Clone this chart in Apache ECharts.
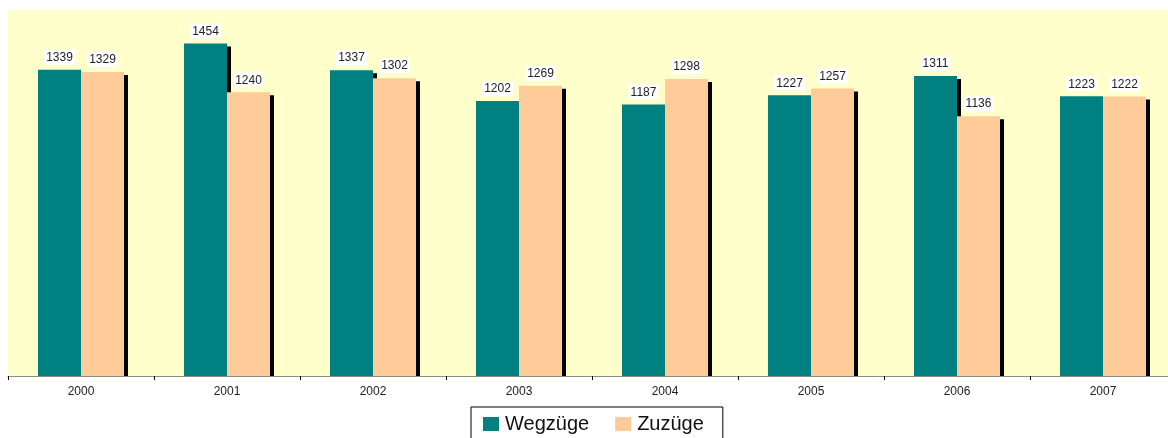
<!DOCTYPE html>
<html>
<head>
<meta charset="utf-8">
<script src="https://cdn.jsdelivr.net/npm/echarts@6/dist/echarts.min.js"></script>
<style>
  html, body { margin: 0; padding: 0; background: #ffffff; }
  #chart { width: 1168px; height: 438px; }
</style>
</head>
<body>
<div id="chart"></div>
<script>
// Jahre und Wanderungszahlen
const years = ['2000', '2001', '2002', '2003', '2004', '2005', '2006', '2007'];
const wegzuege = [1339, 1454, 1337, 1202, 1187, 1227, 1311, 1223];
const zuzuege = [1329, 1240, 1302, 1269, 1298, 1257, 1136, 1222];
const seriesNames = ['Wegzüge', 'Zuzüge'];

const BAR_W = 43;     // width of each bar in px
const SHADOW_W = 4;   // dark drop shadow on the right side
const SHADOW_DY = 3;  // shadow starts a little below the bar top
const FONT = '"Liberation Sans", Arial, sans-serif';

const chart = echarts.init(document.getElementById('chart'), null, { renderer: 'canvas' });

const valueLabel = {
  show: true,
  position: 'top',
  distance: 5,
  color: '#222222',
  fontSize: 12,
  fontFamily: FONT,
  backgroundColor: '#ffffff',
  padding: [2, 2, 1, 2]
};

// shadow strips drawn beneath the bars, positioned through the axis scales
function renderShadows(params, api) {
  const i = api.value(0);
  const base = api.coord([i, 0]);
  const topW = api.coord([i, api.value(1)]);
  const topZ = api.coord([i, api.value(2)]);
  const cx = base[0];
  return {
    type: 'group',
    children: [
      {
        type: 'rect',
        shape: { x: cx, y: topW[1] + SHADOW_DY, width: SHADOW_W, height: base[1] - topW[1] - SHADOW_DY },
        style: { fill: '#000000' }
      },
      {
        type: 'rect',
        shape: { x: cx + BAR_W, y: topZ[1] + SHADOW_DY, width: SHADOW_W, height: base[1] - topZ[1] - SHADOW_DY },
        style: { fill: '#000000' }
      }
    ]
  };
}

chart.setOption({
  animation: false,
  backgroundColor: '#ffffff',
  grid: {
    show: true,
    left: 8,
    top: 10,
    width: 1168,
    height: 366,
    outerBoundsMode: 'none',
    backgroundColor: '#FFFFCC',
    borderWidth: 0,
    containLabel: false
  },
  legend: {
    data: seriesNames,
    left: 471,
    top: 407,
    icon: 'rect',
    itemWidth: 16,
    itemHeight: 14,
    itemGap: 26,
    borderColor: '#000000',
    borderWidth: 1,
    padding: [7, 19, 20, 12],
    textStyle: { fontSize: 20, color: '#111111', fontFamily: FONT, padding: [0, 0, 0, 1] }
  },
  xAxis: {
    type: 'category',
    data: years,
    boundaryGap: true,
    axisLine: { show: true, lineStyle: { color: '#8c8c78', width: 1 } },
    axisTick: { show: true, length: 4, lineStyle: { color: '#000000', width: 1 } },
    axisLabel: { color: '#222222', fontSize: 12, fontFamily: FONT, margin: 10 },
    splitLine: { show: false }
  },
  yAxis: {
    type: 'value',
    min: 0,
    max: 1600,
    show: false,
    splitLine: { show: false }
  },
  series: [
    {
      type: 'custom',
      name: 'shadow',
      z: 1,
      silent: true,
      renderItem: renderShadows,
      encode: { x: 0, y: [1, 2] },
      data: years.map((y, i) => [i, wegzuege[i], zuzuege[i]])
    },
    {
      name: seriesNames[0],
      type: 'bar',
      z: 2,
      barWidth: BAR_W,
      barGap: '0%',
      itemStyle: { color: '#008080' },
      label: valueLabel,
      data: wegzuege
    },
    {
      name: seriesNames[1],
      type: 'bar',
      z: 3,
      barWidth: BAR_W,
      barGap: '0%',
      itemStyle: { color: '#FFCC99' },
      label: valueLabel,
      data: zuzuege
    }
  ]
});
</script>
</body>
</html>
